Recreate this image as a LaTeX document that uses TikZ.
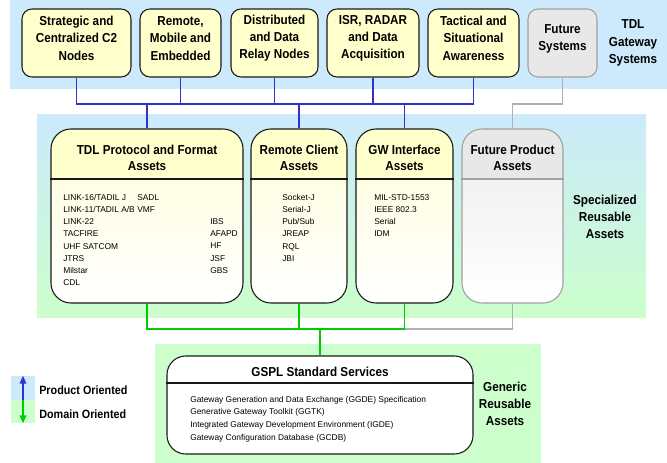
\documentclass[tikz,border=0pt]{standalone}
\usepackage{fontspec}
\setmainfont{Liberation Sans}
\newfontfamily\ttlfam[FakeStretch=0.9]{Liberation Sans}
\usetikzlibrary{fit,arrows.meta}
\definecolor{bandblue}{RGB}{204,234,252}
\definecolor{bandgreen}{RGB}{204,255,204}
\definecolor{yel}{RGB}{255,255,204}
\definecolor{yelbody}{RGB}{255,254,228}
\definecolor{futgray}{RGB}{232,232,232}
\definecolor{futbody}{RGB}{242,242,242}
\definecolor{futline}{RGB}{160,160,160}
\definecolor{conblue}{RGB}{51,51,204}
\definecolor{congreen}{RGB}{0,204,0}
\definecolor{congray}{RGB}{176,176,176}
\definecolor{boxline}{RGB}{25,25,25}
\begin{document}
\begin{tikzpicture}[x=0.75pt,y=-0.75pt,
  ttl/.style={font={\ttlfam\bfseries\fontsize{9.75}{12.9}\selectfont}, align=center, inner sep=0pt},
  mttl/.style={font={\ttlfam\bfseries\fontsize{9.75}{12}\selectfont}, align=center, inner sep=0pt},
  lgtxt/.style={font={\ttlfam\bfseries\fontsize{9}{11}\selectfont}, inner sep=0pt, anchor=west},
  item/.style={font={\fontsize{6.3}{9.15}\selectfont}, align=left, inner sep=0pt, anchor=north west},
  gitem/.style={font={\fontsize{6.3}{9.45}\selectfont}, align=left, inner sep=0pt, anchor=north west},
  topbox/.style={inner sep=0pt, draw=boxline, fill=yel, rounded corners=7.5pt, line width=0.8pt, ttl},
  futbox/.style={topbox, draw=futline, fill=futgray},
  midbox/.style={inner sep=0pt, draw=boxline, rounded corners=15pt, line width=0.8pt},
  futmid/.style={midbox, draw=futline},
  bl/.style={conblue, line width=1.2pt},
  gl/.style={congreen, line width=1.1pt},
  gyl/.style={congray, line width=1.0pt},
  tip/.style={-{Triangle[width=5pt,length=6pt]}, line width=0.8pt}
]
\useasboundingbox (0,0) rectangle (667,463);
% bands
\fill[bandblue] (10,0) rectangle (667,89);
\shade[top color=bandblue, bottom color=bandgreen] (37,115) rectangle (646,317);
\fill[bandgreen] (155,344) rectangle (541,463);

% top boxes
\node[topbox, fit={(22,9)(131,77)}] (b1) {Strategic and\\Centralized C2\\Nodes};
\node[topbox, fit={(140,9)(221,77)}] (b2) {Remote,\\Mobile and\\Embedded};
\node[topbox, fit={(231,9)(318,77)}] (b3) {Distributed\\and Data\\Relay Nodes};
\node[topbox, fit={(327,9)(419,77)}] (b4) {ISR, RADAR\\and Data\\Acquisition};
\node[topbox, fit={(428,9)(519,77)}] (b5) {Tactical and\\Situational\\Awareness};
\node[futbox, fit={(528,9)(597,77)}] (fs) {Future\\Systems};
\node[ttl] (lblT) at (633,43) {TDL\\Gateway\\Systems};

% middle boxes
\coordinate (hdr) at (0,179);
\begin{scope}
  \clip[rounded corners=15pt] (51,129) rectangle (243,303);
  \shade[top color=yelbody, bottom color=white] (51,179) rectangle (243,303);
  \fill[yel] (51,129) rectangle (243,179);
\end{scope}
\begin{scope}
  \clip[rounded corners=15pt] (251,129) rectangle (347,303);
  \shade[top color=yelbody, bottom color=white] (251,179) rectangle (347,303);
  \fill[yel] (251,129) rectangle (347,179);
\end{scope}
\begin{scope}
  \clip[rounded corners=15pt] (356,129) rectangle (453,303);
  \shade[top color=yelbody, bottom color=white] (356,179) rectangle (453,303);
  \fill[yel] (356,129) rectangle (453,179);
\end{scope}
\begin{scope}
  \clip[rounded corners=15pt] (462,129) rectangle (563,303);
  \shade[top color=futbody, bottom color=white] (462,179) rectangle (563,303);
  \fill[futgray] (462,129) rectangle (563,179);
\end{scope}
\node[midbox, fit={(51,129)(243,303)}] (tdl) {};
\node[midbox, fit={(251,129)(347,303)}] (rc) {};
\node[midbox, fit={(356,129)(453,303)}] (gw) {};
\node[futmid, fit={(462,129)(563,303)}] (fp) {};
\draw[boxline, line width=0.8pt] (tdl.west |- hdr) -- (tdl.east |- hdr);
\draw[boxline, line width=0.8pt] (rc.west |- hdr) -- (rc.east |- hdr);
\draw[boxline, line width=0.8pt] (gw.west |- hdr) -- (gw.east |- hdr);
\draw[futline, line width=0.8pt] (fp.west |- hdr) -- (fp.east |- hdr);

\node[mttl] (tdlT) at (147,158) {TDL Protocol and Format\\Assets};
\node[mttl] (rcT) at (299,158) {Remote Client\\Assets};
\node[mttl] (gwT) at (404.5,158) {GW Interface\\Assets};
\node[mttl] (fpT) at (512.5,158) {Future Product\\Assets};

\node[item] (tdlA) at (63,194) {LINK-16/TADIL J\\LINK-11/TADIL A/B\\LINK-22\\TACFIRE\\UHF SATCOM\\JTRS\\Milstar\\CDL};
\node[item] (tdlB) at (137,194) {SADL\\VMF};
\node[item] (tdlC) at (210,218.4) {IBS\\AFAPD\\HF\\JSF\\GBS};
\node[item] (rcA) at (282,194) {Socket-J\\Serial-J\\Pub/Sub\\JREAP\\RQL\\JBI};
\node[item] (gwA) at (374,194) {MIL-STD-1553\\IEEE 802.3\\Serial\\IDM};

\node[ttl] (lblS) at (605,217) {Specialized\\Reusable\\Assets};

% bottom box
\node[midbox, fill=white, rounded corners=14pt, fit={(167,356)(473,454)}] (gspl) {};
\draw[boxline, line width=0.8pt] (gspl.west |- 0,383) -- (gspl.east |- 0,383);
\node[mttl] (gsplT) at (320,372) {GSPL Standard Services};
\node[gitem] (gsplA) at (190,396) {Gateway Generation and Data Exchange (GGDE) Specification\\Generative Gateway Toolkit (GGTK)\\Integrated Gateway Development Environment (IGDE)\\Gateway Configuration Database (GCDB)};
\node[ttl] (lblG) at (505,404) {Generic\\Reusable\\Assets};

% connectors
\coordinate (busT) at (0,104);
\coordinate (busB) at (0,329);
\draw[gyl] (fs.south) |- (fp.north |- busT) -- (fp.north);
\draw[gyl] (fp.south) |- (gw.south |- busB);
\draw[bl] (b1.south) |- (b5.south |- busT) -- (b5.south);
\draw[bl] (b2.south) -- (b2.south |- busT);
\draw[bl] (b3.south) -- (b3.south |- busT);
\draw[bl] (b4.south) -- (b4.south |- busT);
\draw[bl] (tdl.north) -- (tdl.north |- busT);
\draw[bl] (rc.north) -- (rc.north |- busT);
\draw[bl] (gw.north) -- (gw.north |- busT);
\draw[gl] (tdl.south) |- (gw.south |- busB) -- (gw.south);
\draw[gl] (rc.south) -- (rc.south |- busB);
\draw[gl] (gspl.north) -- (gspl.north |- busB);

% legend
\node[inner sep=0pt, fill=bandblue, fit={(11,376)(35,400)}] (lgb) {};
\node[inner sep=0pt, fill=bandgreen, fit={(11,400)(35,423)}] (lgg) {};
\draw[conblue, tip] (lgb.south) -- (lgb.north);
\draw[congreen, tip] (lgg.north) -- (lgg.south);
\node[lgtxt] (lt1) at (39,390) {Product Oriented};
\node[lgtxt] (lt2) at (39,414) {Domain Oriented};
\end{tikzpicture}
\end{document}
